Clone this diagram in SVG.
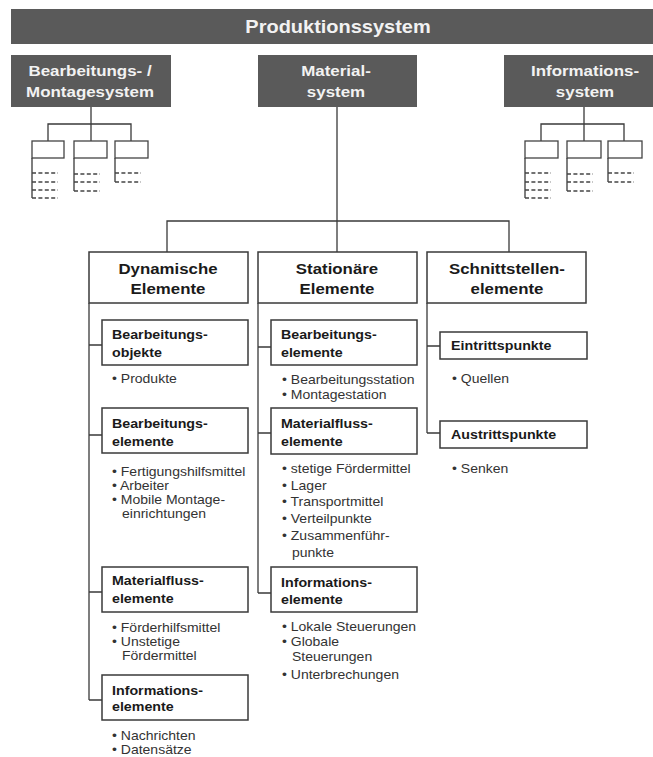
<svg xmlns="http://www.w3.org/2000/svg" width="653" height="757" viewBox="0 0 653 757">
  <style>
    .dark { fill: #5a5a5a; }
    .box { fill: #ffffff; stroke: #3a3a3a; stroke-width: 1.5; }
    .mini { fill: #ffffff; stroke: #444444; stroke-width: 1.3; }
    .ln { fill: none; stroke: #3a3a3a; stroke-width: 1.3; }
    .dash { fill: none; stroke: #444444; stroke-width: 1.3; stroke-dasharray: 4 2.4; }
    text { font-family: "Liberation Sans", Arial, sans-serif; }
    .tw { font-weight: bold; fill: #f2f2f2; text-anchor: middle; font-size: 14.6px; }
    .tt { font-weight: bold; fill: #f2f2f2; text-anchor: middle; font-size: 18px; }
    .th { font-weight: bold; fill: #1a1a1a; text-anchor: middle; font-size: 15.3px; }
    .ts { font-weight: bold; fill: #1a1a1a; font-size: 12.5px; }
    .tb { fill: #333333; font-size: 12.4px; }
  </style>

  <!-- top level -->
  <g id="produktionssystem">
    <rect class="dark" x="11" y="9" width="642" height="35"/>
    <text class="tt" transform="translate(338 33) scale(1.11 1)">Produktionssystem</text>
  </g>

  <g id="bearbeitungs-montagesystem">
    <rect class="dark" x="11" y="55" width="160" height="52"/>
    <text class="tw" transform="translate(90 76) scale(1.16 1)">Bearbeitungs- /</text>
    <text class="tw" transform="translate(90 97) scale(1.16 1)">Montagesystem</text>
  </g>

  <g id="materialsystem">
    <rect class="dark" x="258" y="55" width="159" height="52"/>
    <text class="tw" transform="translate(336 76) scale(1.16 1)">Material-</text>
    <text class="tw" transform="translate(336 97) scale(1.16 1)">system</text>
  </g>

  <g id="informationssystem">
    <rect class="dark" x="504" y="55" width="149" height="52"/>
    <text class="tw" transform="translate(585 76) scale(1.16 1)">Informations-</text>
    <text class="tw" transform="translate(585 97) scale(1.16 1)">system</text>
  </g>

  <!-- small schematic trees below the outer subsystems -->
  <g id="mini-tree-left">
    <path class="ln" d="M91 107V124M48 141V124H131V141M91 124V141"/>
    <rect class="mini" x="32" y="141" width="32" height="17"/>
    <rect class="mini" x="74" y="141" width="33" height="17"/>
    <rect class="mini" x="115" y="141" width="33" height="17"/>
    <path class="ln" d="M32 158V198M74 158V191M115 158V182"/>
    <path class="dash" d="M32 173H58M32 182H58M32 190H58M32 198H58M74 174H100M74 182H100M74 191H100M115 173H141M115 182H141"/>
  </g>

  <g id="mini-tree-right">
    <path class="ln" d="M584 107V124M541 141V124H624V141M584 124V141"/>
    <rect class="mini" x="525" y="141" width="33" height="17"/>
    <rect class="mini" x="567" y="141" width="34" height="17"/>
    <rect class="mini" x="608" y="141" width="34" height="17"/>
    <path class="ln" d="M525 158V198M567 158V191M608 158V182"/>
    <path class="dash" d="M525 173H551M525 182H551M525 190H551M525 198H551M567 174H593M567 182H593M567 191H593M608 173H634M608 182H634"/>
  </g>

  <!-- connectors of the material system tree -->
  <g id="connectors">
    <path class="ln" d="M337 107V252M167 252V221H509V252"/>
    <path class="ln" d="M89 303V700M89 345H102M89 435H102M89 592H102M89 700H102"/>
    <path class="ln" d="M258 303V593M258 347H271M258 433H271M258 593H271"/>
    <path class="ln" d="M427 303V433M427 346H440M427 433H440"/>
  </g>

  <!-- column heads -->
  <g id="dynamische-elemente">
    <rect class="box" x="89" y="252" width="159" height="51"/>
    <text class="th" transform="translate(168 274) scale(1.1 1)">Dynamische</text>
    <text class="th" transform="translate(168 294) scale(1.1 1)">Elemente</text>
  </g>

  <g id="stationaere-elemente">
    <rect class="box" x="258" y="252" width="159" height="51"/>
    <text class="th" transform="translate(337 274) scale(1.1 1)">Stationäre</text>
    <text class="th" transform="translate(337 294) scale(1.1 1)">Elemente</text>
  </g>

  <g id="schnittstellenelemente">
    <rect class="box" x="427" y="252" width="159" height="51"/>
    <text class="th" transform="translate(507 274) scale(1.1 1)">Schnittstellen-</text>
    <text class="th" transform="translate(507 294) scale(1.1 1)">elemente</text>
  </g>

  <!-- dynamic elements -->
  <g id="dyn-bearbeitungsobjekte">
    <rect class="box" x="102" y="320" width="146" height="45"/>
    <text class="ts" transform="translate(112 339) scale(1.14 1)">Bearbeitungs-</text>
    <text class="ts" transform="translate(112 357) scale(1.14 1)">objekte</text>
    <text class="tb" transform="translate(112 383) scale(1.13 1)">• Produkte</text>
  </g>

  <g id="dyn-bearbeitungselemente">
    <rect class="box" x="102" y="408" width="146" height="45"/>
    <text class="ts" transform="translate(112 428) scale(1.14 1)">Bearbeitungs-</text>
    <text class="ts" transform="translate(112 446) scale(1.14 1)">elemente</text>
    <text class="tb" transform="translate(112 476) scale(1.13 1)">• Fertigungshilfsmittel</text>
    <text class="tb" transform="translate(112 490) scale(1.13 1)">• Arbeiter</text>
    <text class="tb" transform="translate(112 504) scale(1.13 1)">• Mobile Montage-</text>
    <text class="tb" transform="translate(122 518) scale(1.13 1)">einrichtungen</text>
  </g>

  <g id="dyn-materialflusselemente">
    <rect class="box" x="102" y="567" width="146" height="45"/>
    <text class="ts" transform="translate(112 585) scale(1.14 1)">Materialfluss-</text>
    <text class="ts" transform="translate(112 603) scale(1.14 1)">elemente</text>
    <text class="tb" transform="translate(112 632) scale(1.13 1)">• Förderhilfsmittel</text>
    <text class="tb" transform="translate(112 646) scale(1.13 1)">• Unstetige</text>
    <text class="tb" transform="translate(122 660) scale(1.13 1)">Fördermittel</text>
  </g>

  <g id="dyn-informationselemente">
    <rect class="box" x="102" y="675" width="146" height="45"/>
    <text class="ts" transform="translate(112 695) scale(1.14 1)">Informations-</text>
    <text class="ts" transform="translate(112 711) scale(1.14 1)">elemente</text>
    <text class="tb" transform="translate(112 740) scale(1.13 1)">• Nachrichten</text>
    <text class="tb" transform="translate(112 754) scale(1.13 1)">• Datensätze</text>
  </g>

  <!-- stationary elements -->
  <g id="stat-bearbeitungselemente">
    <rect class="box" x="271" y="320" width="146" height="45"/>
    <text class="ts" transform="translate(281 339) scale(1.14 1)">Bearbeitungs-</text>
    <text class="ts" transform="translate(281 357) scale(1.14 1)">elemente</text>
    <text class="tb" transform="translate(282 384) scale(1.13 1)">• Bearbeitungsstation</text>
    <text class="tb" transform="translate(282 399) scale(1.13 1)">• Montagestation</text>
  </g>

  <g id="stat-materialflusselemente">
    <rect class="box" x="271" y="408" width="146" height="46"/>
    <text class="ts" transform="translate(281 428) scale(1.14 1)">Materialfluss-</text>
    <text class="ts" transform="translate(281 446) scale(1.14 1)">elemente</text>
    <text class="tb" transform="translate(282 473) scale(1.13 1)">• stetige Fördermittel</text>
    <text class="tb" transform="translate(282 490) scale(1.13 1)">• Lager</text>
    <text class="tb" transform="translate(282 506) scale(1.13 1)">• Transportmittel</text>
    <text class="tb" transform="translate(282 523) scale(1.13 1)">• Verteilpunkte</text>
    <text class="tb" transform="translate(282 540) scale(1.13 1)">• Zusammenführ-</text>
    <text class="tb" transform="translate(292 557) scale(1.13 1)">punkte</text>
  </g>

  <g id="stat-informationselemente">
    <rect class="box" x="271" y="567" width="146" height="45"/>
    <text class="ts" transform="translate(281 587) scale(1.14 1)">Informations-</text>
    <text class="ts" transform="translate(281 604) scale(1.14 1)">elemente</text>
    <text class="tb" transform="translate(282 631) scale(1.13 1)">• Lokale Steuerungen</text>
    <text class="tb" transform="translate(282 646) scale(1.13 1)">• Globale</text>
    <text class="tb" transform="translate(292 661) scale(1.13 1)">Steuerungen</text>
    <text class="tb" transform="translate(282 679) scale(1.13 1)">• Unterbrechungen</text>
  </g>

  <!-- interface elements -->
  <g id="eintrittspunkte">
    <rect class="box" x="440" y="332" width="147" height="27"/>
    <text class="ts" transform="translate(451 350) scale(1.14 1)">Eintrittspunkte</text>
    <text class="tb" transform="translate(452 383) scale(1.13 1)">• Quellen</text>
  </g>

  <g id="austrittspunkte">
    <rect class="box" x="440" y="421" width="147" height="27"/>
    <text class="ts" transform="translate(451 439) scale(1.14 1)">Austrittspunkte</text>
    <text class="tb" transform="translate(452 473) scale(1.13 1)">• Senken</text>
  </g>
</svg>
